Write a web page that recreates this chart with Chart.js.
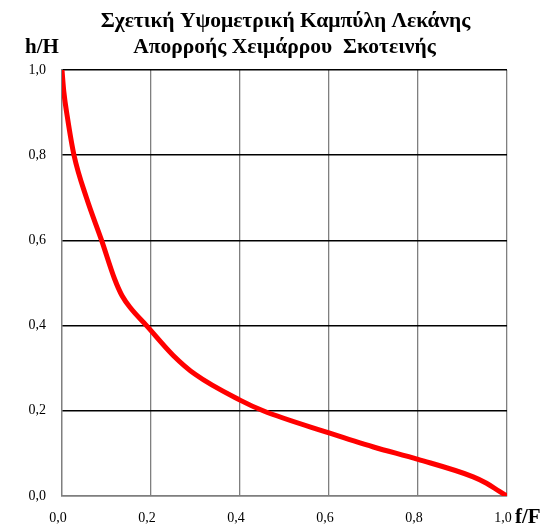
<!DOCTYPE html>
<html>
<head>
<meta charset="utf-8">
<script src="https://cdn.jsdelivr.net/npm/chart.js@4/dist/chart.umd.min.js"></script>
<style>
  html, body { margin: 0; padding: 0; background: #fff; }
  #wrap { width: 550px; height: 528px; }
</style>
</head>
<body>
<div id="wrap"><canvas id="curve"></canvas></div>
<script>
// relative area f/F and relative height h/H along the curve
const areaRatio = [0, 0.004, 0.012, 0.027, 0.055, 0.089, 0.118, 0.135, 0.155, 0.19, 0.25, 0.30, 0.40, 0.452, 0.60, 0.70, 0.80, 0.924, 0.954, 0.984, 1.0];
const heightRatio = [1.0, 0.95, 0.89, 0.80, 0.70, 0.60, 0.51, 0.470, 0.440, 0.40, 0.33, 0.285, 0.225, 0.20, 0.148, 0.115, 0.086, 0.045, 0.030, 0.010, 0.0];

const titleLines = ['Σχετική Υψομετρική Καμπύλη Λεκάνης', 'Απορροής Χειμάρρου  Σκοτεινής'];
const yName = 'h/H';
const xName = 'f/F';

const points = areaRatio.map((x, i) => ({ x: x, y: heightRatio[i] }));
const fmt = v => v.toFixed(1).replace('.', ',');

const labelsPlugin = {
  id: 'labels',
  afterDraw(chart) {
    const { ctx, chartArea } = chart;
    ctx.save();
    ctx.fillStyle = '#000';
    ctx.font = 'bold 21.5px "Liberation Serif"';
    ctx.textAlign = 'center';
    ctx.textBaseline = 'alphabetic';
    const cx = (chartArea.left + chartArea.right) / 2;
    ctx.fillText(titleLines[0], cx + 1, 27);
    ctx.fillText(titleLines[1], cx, 53);
    ctx.textAlign = 'left';
    ctx.font = 'bold 21px "Liberation Serif"';
    ctx.fillText(yName, 25, 53);
    ctx.fillText(xName, chartArea.right + 8, chartArea.bottom + 27);
    ctx.restore();
  }
};

new Chart(document.getElementById('curve'), {
  type: 'scatter',
  data: {
    datasets: [{
      data: points,
      showLine: true,
      borderColor: '#ff0000',
      borderWidth: 5,
      pointRadius: 0,
      cubicInterpolationMode: 'monotone',
      borderCapStyle: 'round'
    }]
  },
  options: {
    animation: false,
    responsive: true,
    maintainAspectRatio: false,
    layout: { padding: { top: 70, right: 43, left: 0, bottom: 0 } },
    plugins: { legend: { display: false }, tooltip: { enabled: false } },
    scales: {
      x: {
        type: 'linear',
        min: 0, max: 1,
        afterFit(scale) { scale.height = 32; },
        ticks: {
          stepSize: 0.2,
          callback: fmt,
          color: '#000',
          padding: 14,
          labelOffset: -4,
          font: { family: 'Liberation Serif', size: 14 }
        },
        grid: { color: '#7f7f7f', lineWidth: 1.3, drawTicks: false },
        border: { color: '#7f7f7f', width: 1.5 }
      },
      y: {
        type: 'linear',
        min: 0, max: 1,
        afterFit(scale) { scale.width = 62; },
        ticks: {
          stepSize: 0.2,
          callback: fmt,
          color: '#000',
          padding: 16,
          font: { family: 'Liberation Serif', size: 14 }
        },
        grid: {
          color: c => (c.tick && c.tick.value === 0 ? '#7f7f7f' : '#000'),
          lineWidth: 1.5,
          drawTicks: false
        },
        border: { color: '#7f7f7f', width: 1.3 }
      }
    }
  },
  plugins: [labelsPlugin]
});
</script>
</body>
</html>
